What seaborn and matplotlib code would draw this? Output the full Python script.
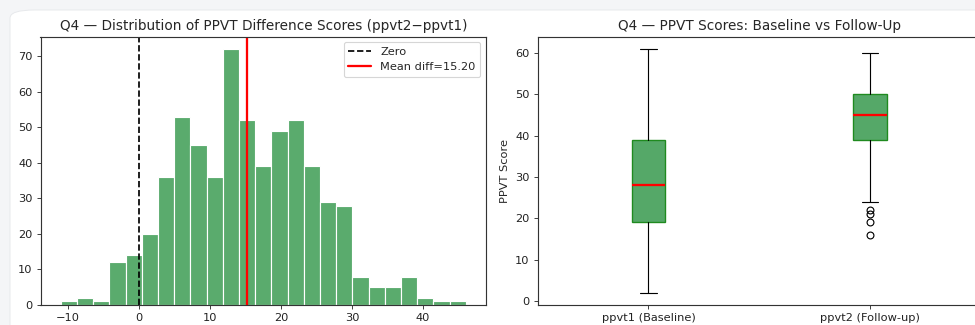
import numpy as np
import pandas as pd
import matplotlib
matplotlib.use("Agg")
import matplotlib.pyplot as plt
from matplotlib.patches import FancyBboxPatch
import seaborn as sns

# Histogram of score differences (ppvt2 - ppvt1)
diff_min, diff_max, n_bins = -11, 46, 25
diff_counts = [1, 2, 1, 12, 14, 20, 36, 53, 45, 36, 72, 52, 39,
               49, 52, 39, 29, 28, 8, 5, 5, 8, 2, 1, 1]
mean_diff = 15.20

# Box summary for baseline and follow-up scores
box_labels = ["ppvt1 (Baseline)", "ppvt2 (Follow-up)"]
whisker_lo = [2, 24]
q1 = [19, 39]
medians = [28, 45]
q3 = [39, 50]
whisker_hi = [61, 60]
fliers = [[], [16, 19, 21, 22]]

GREEN = "#55a868"
DPI = 82

sns.set_style("white")
plt.rcParams["font.family"] = ["DejaVu Sans"]
plt.rcParams["axes.edgecolor"] = "#333333"
plt.rcParams["axes.linewidth"] = 1.0
plt.rcParams["xtick.bottom"] = True
plt.rcParams["ytick.left"] = True
plt.rcParams["xtick.color"] = "#333333"
plt.rcParams["ytick.color"] = "#333333"
plt.rcParams["xtick.labelcolor"] = "#222222"
plt.rcParams["ytick.labelcolor"] = "#222222"

W, H = 975, 325
fig = plt.figure(figsize=(W / DPI, H / DPI), dpi=DPI)
fig.patch.set_facecolor("#f4f5f7")
card = FancyBboxPatch((10 / W, -0.2), 1.2, (H - 10) / H + 0.2,
                      boxstyle="round,pad=0,rounding_size=0.025",
                      transform=fig.transFigure, facecolor="white",
                      edgecolor="#e6e8eb", linewidth=0.8, zorder=-10)
fig.patches.append(card)

def px_axes(x0, y0, x1, y1):
    return fig.add_axes([x0 / W, 1 - y1 / H, (x1 - x0) / W, (y1 - y0) / H])

# Left panel: histogram
ax1 = px_axes(40.5, 36.5, 486, 305)
edges = np.linspace(diff_min, diff_max, n_bins + 1)
centers = (edges[:-1] + edges[1:]) / 2
hist_df = pd.DataFrame({"diff": centers, "count": diff_counts})
sns.histplot(data=hist_df, x="diff", weights="count", bins=list(edges),
             color=GREEN, edgecolor="white", linewidth=1.0, alpha=0.97, ax=ax1)
ax1.axvline(0, color="black", linestyle="--", linewidth=1.5, label="Zero")
ax1.axvline(mean_diff, color="red", linewidth=2, label=f"Mean diff={mean_diff:.2f}")
ax1.set_xlim(diff_min - 0.05 * (diff_max - diff_min), diff_max + 0.05 * (diff_max - diff_min))
ax1.set_ylim(0, max(diff_counts) * 1.05)
ax1.set_xticks([-10, 0, 10, 20, 30, 40])
ax1.set_ylabel("")
ax1.set_xlabel("")
ax1.set_title("Q4 — Distribution of PPVT Difference Scores (ppvt2−ppvt1)", fontsize=12)
ax1.legend(loc="upper right", fontsize=10)
ax1.tick_params(labelsize=10, length=3.5, width=0.8)

# Right panel: box plot
ax2 = px_axes(537.5, 36.5, 981, 305)
stats = []
for i in range(2):
    stats.append(dict(label=box_labels[i], whislo=whisker_lo[i], q1=q1[i],
                      med=medians[i], q3=q3[i], whishi=whisker_hi[i],
                      fliers=fliers[i]))
ax2.bxp(stats, positions=[1, 2], widths=0.15, patch_artist=True,
        boxprops=dict(facecolor=GREEN, edgecolor="#1f8a1f", linewidth=1.2),
        medianprops=dict(color="red", linewidth=2),
        whiskerprops=dict(color="black", linewidth=1),
        capprops=dict(color="black", linewidth=1),
        flierprops=dict(marker="o", markerfacecolor="none",
                        markeredgecolor="black", markersize=6))
all_vals = whisker_lo + whisker_hi + [v for f in fliers for v in f]
lo, hi = min(all_vals), max(all_vals)
ax2.set_ylim(lo - 0.05 * (hi - lo), hi + 0.05 * (hi - lo))
ax2.set_xlim(0.5, 2.5)
ax2.set_yticks([0, 10, 20, 30, 40, 50, 60])
ax2.set_ylabel("PPVT Score", fontsize=10)
ax2.set_title("Q4 — PPVT Scores: Baseline vs Follow-Up", fontsize=12)
ax2.tick_params(labelsize=10, length=3.5, width=0.8)

fig.savefig("out.png", dpi=DPI, facecolor=fig.get_facecolor())
